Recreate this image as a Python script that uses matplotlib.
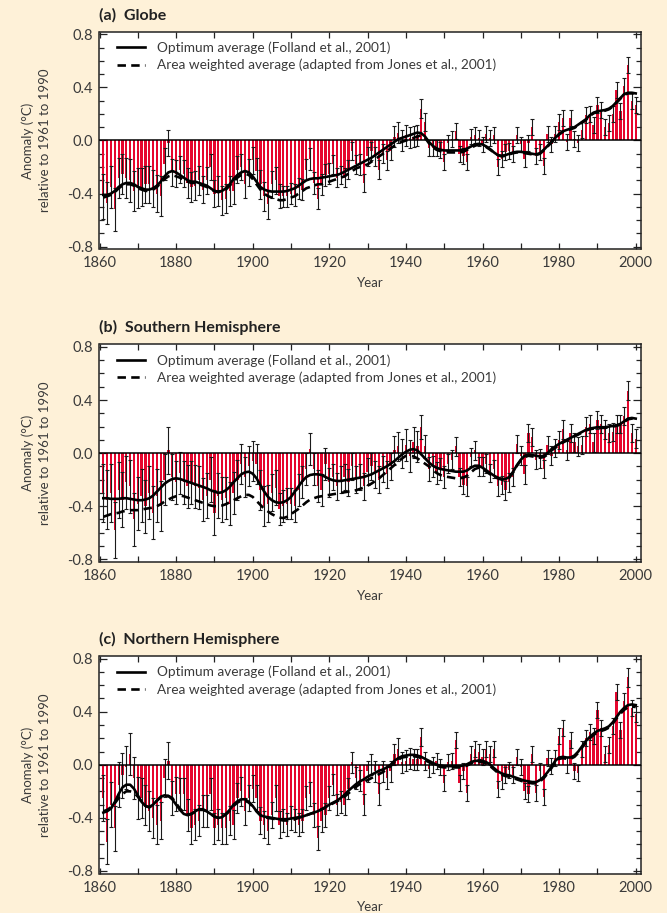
import numpy as np
import matplotlib.pyplot as plt
from matplotlib.ticker import MultipleLocator, FormatStrFormatter

plt.rcParams['font.family'] = ['Lato', 'DejaVu Sans']
plt.rcParams['axes.unicode_minus'] = False

years = np.arange(1861, 2001)

# (a) Globe
globe_bars = [
    -0.42, -0.47, -0.35, -0.52, -0.28, -0.25, -0.28, -0.30, -0.38, -0.36,
    -0.35, -0.33, -0.33, -0.36, -0.40, -0.42, -0.18, -0.02, -0.24, -0.25,
    -0.22, -0.25, -0.32, -0.35, -0.34, -0.30, -0.37, -0.30, -0.20, -0.40,
    -0.38, -0.45, -0.44, -0.38, -0.38, -0.22, -0.20, -0.33, -0.24, -0.15,
    -0.23, -0.33, -0.42, -0.48, -0.33, -0.30, -0.42, -0.42, -0.42, -0.40,
    -0.41, -0.36, -0.37, -0.22, -0.14, -0.32, -0.44, -0.33, -0.26, -0.25,
    -0.18, -0.28, -0.26, -0.28, -0.22, -0.08, -0.18, -0.18, -0.32, -0.12,
    -0.08, -0.12, -0.22, -0.10, -0.15, -0.08, 0.03, 0.06, 0.00, 0.04,
    0.02, 0.03, 0.04, 0.24, 0.14, -0.06, -0.06, -0.06, -0.07, -0.16,
    -0.02, 0.01, 0.07, -0.10, -0.12, -0.16, 0.03, 0.04, 0.02, -0.03,
    0.05, 0.02, 0.04, -0.20, -0.14, -0.09, -0.08, -0.10, 0.04, -0.03,
    -0.14, -0.02, 0.10, -0.12, -0.09, -0.19, 0.05, -0.03, 0.05, 0.14,
    0.17, -0.01, 0.17, 0.01, -0.02, 0.08, 0.19, 0.20, 0.12, 0.27,
    0.23, 0.10, 0.13, 0.20, 0.38, 0.22, 0.41, 0.57, 0.30, 0.27,
]
globe_err = [
    0.17, 0.16, 0.16, 0.16, 0.15, 0.15, 0.15, 0.16, 0.15, 0.15,
    0.14, 0.14, 0.14, 0.14, 0.14, 0.15, 0.12, 0.10, 0.10, 0.10,
    0.10, 0.10, 0.11, 0.11, 0.11, 0.11, 0.10, 0.10, 0.10, 0.10,
    0.11, 0.11, 0.11, 0.11, 0.10, 0.10, 0.10, 0.10, 0.10, 0.10,
    0.10, 0.11, 0.11, 0.11, 0.10, 0.10, 0.09, 0.08, 0.08, 0.08,
    0.08, 0.08, 0.08, 0.08, 0.08, 0.08, 0.08, 0.08, 0.08, 0.08,
    0.07, 0.07, 0.07, 0.07, 0.07, 0.07, 0.07, 0.08, 0.07, 0.07,
    0.07, 0.07, 0.07, 0.07, 0.07, 0.07, 0.08, 0.08, 0.08, 0.08,
    0.08, 0.08, 0.08, 0.07, 0.07, 0.06, 0.06, 0.06, 0.06, 0.06,
    0.06, 0.06, 0.06, 0.06, 0.06, 0.06, 0.06, 0.06, 0.06, 0.06,
    0.06, 0.06, 0.06, 0.06, 0.06, 0.06, 0.06, 0.06, 0.06, 0.06,
    0.06, 0.06, 0.06, 0.06, 0.06, 0.06, 0.06, 0.06, 0.06, 0.06,
    0.06, 0.06, 0.06, 0.06, 0.06, 0.06, 0.06, 0.06, 0.06, 0.06,
    0.06, 0.06, 0.06, 0.06, 0.06, 0.06, 0.06, 0.06, 0.06, 0.06,
]
globe_opt = [
    -0.41, -0.41, -0.40, -0.38, -0.35, -0.33, -0.32, -0.32, -0.33, -0.35,
    -0.36, -0.37, -0.37, -0.36, -0.34, -0.31, -0.27, -0.24, -0.23, -0.24,
    -0.26, -0.28, -0.30, -0.31, -0.31, -0.32, -0.33, -0.34, -0.36, -0.38,
    -0.385, -0.38, -0.36, -0.33, -0.29, -0.26, -0.24, -0.23, -0.24, -0.27,
    -0.31, -0.35, -0.37, -0.38, -0.385, -0.385, -0.385, -0.385, -0.38, -0.37,
    -0.36, -0.34, -0.32, -0.30, -0.29, -0.285, -0.285, -0.28, -0.275, -0.27,
    -0.265, -0.26, -0.25, -0.235, -0.22, -0.205, -0.19, -0.175, -0.16, -0.145,
    -0.13, -0.11, -0.09, -0.07, -0.05, -0.03, -0.01, 0.01, 0.02, 0.03,
    0.04, 0.05, 0.06, 0.055, 0.03, -0.01, -0.04, -0.06, -0.07, -0.075,
    -0.075, -0.075, -0.075, -0.075, -0.07, -0.06, -0.045, -0.03, -0.025, -0.03,
    -0.045, -0.065, -0.09, -0.11, -0.115, -0.11, -0.10, -0.09, -0.085, -0.085,
    -0.09, -0.095, -0.10, -0.105, -0.095, -0.07, -0.04, -0.01, 0.02, 0.05,
    0.07, 0.08, 0.09, 0.10, 0.12, 0.14, 0.16, 0.19, 0.21, 0.22,
    0.225, 0.23, 0.24, 0.26, 0.29, 0.32, 0.35, 0.36, 0.36, 0.355,
]
globe_area = [
    -0.43, -0.42, -0.41, -0.39, -0.36, -0.34, -0.33, -0.33, -0.34, -0.36,
    -0.37, -0.38, -0.38, -0.37, -0.35, -0.32, -0.29, -0.27, -0.26, -0.27,
    -0.28, -0.30, -0.31, -0.32, -0.32, -0.33, -0.34, -0.35, -0.37, -0.38,
    -0.39, -0.38, -0.37, -0.34, -0.31, -0.28, -0.26, -0.25, -0.26, -0.29,
    -0.33, -0.37, -0.40, -0.42, -0.43, -0.44, -0.45, -0.45, -0.44, -0.43,
    -0.42, -0.40, -0.38, -0.36, -0.35, -0.34, -0.33, -0.33, -0.32, -0.31,
    -0.30, -0.29, -0.28, -0.27, -0.25, -0.23, -0.21, -0.20, -0.19, -0.18,
    -0.16, -0.14, -0.12, -0.10, -0.08, -0.06, -0.04, -0.02, -0.01, 0.00,
    0.01, 0.02, 0.03, 0.04, 0.02, -0.02, -0.05, -0.07, -0.08, -0.09,
    -0.09, -0.09, -0.09, -0.09, -0.085, -0.07, -0.055, -0.04, -0.03, -0.035,
    -0.05, -0.07, -0.09, -0.11, -0.12, -0.115, -0.105, -0.095, -0.09, -0.09,
    -0.095, -0.10, -0.105, -0.11, -0.10, -0.075, -0.045, -0.015, 0.015, 0.045,
    0.065, 0.075, 0.085, 0.095, 0.115, 0.135, 0.155, 0.185, 0.205, 0.215,
    0.22, 0.225, 0.235, 0.255, 0.285, 0.315, 0.345, 0.355, 0.355, 0.35,
]

# (b) Southern Hemisphere
south_bars = [
    -0.30, -0.35, -0.30, -0.58, -0.28, -0.35, -0.22, -0.25, -0.50, -0.38,
    -0.32, -0.40, -0.30, -0.45, -0.32, -0.40, -0.20, 0.02, -0.18, -0.22,
    -0.15, -0.22, -0.25, -0.22, -0.25, -0.26, -0.35, -0.32, -0.20, -0.45,
    -0.32, -0.35, -0.34, -0.38, -0.30, -0.20, -0.08, -0.18, -0.10, -0.06,
    -0.08, -0.28, -0.40, -0.38, -0.30, -0.26, -0.42, -0.40, -0.38, -0.38,
    -0.40, -0.28, -0.22, -0.12, 0.03, -0.12, -0.25, -0.28, -0.08, -0.22,
    -0.18, -0.25, -0.20, -0.18, -0.22, -0.10, -0.20, -0.18, -0.25, -0.14,
    -0.10, -0.16, -0.20, -0.12, -0.16, -0.10, 0.02, 0.05, 0.00, 0.06,
    -0.02, 0.08, 0.05, 0.20, 0.05, -0.12, -0.10, -0.15, -0.12, -0.18,
    -0.08, -0.05, 0.05, -0.18, -0.24, -0.25, -0.03, 0.02, -0.10, -0.10,
    -0.08, -0.15, -0.12, -0.25, -0.24, -0.28, -0.22, -0.18, 0.07, -0.02,
    -0.16, 0.15, 0.12, -0.05, -0.04, -0.12, 0.06, -0.02, 0.04, 0.10,
    0.18, 0.02, 0.15, 0.08, 0.05, 0.06, 0.20, 0.22, 0.08, 0.25,
    0.22, 0.18, 0.15, 0.16, 0.22, 0.22, 0.28, 0.47, 0.15, 0.11,
]
south_err = [
    0.22, 0.22, 0.22, 0.21, 0.21, 0.21, 0.20, 0.20, 0.20, 0.20,
    0.20, 0.20, 0.20, 0.20, 0.20, 0.19, 0.19, 0.18, 0.17, 0.16,
    0.16, 0.16, 0.16, 0.16, 0.16, 0.16, 0.16, 0.17, 0.17, 0.17,
    0.17, 0.17, 0.16, 0.16, 0.16, 0.15, 0.15, 0.15, 0.15, 0.15,
    0.15, 0.15, 0.15, 0.14, 0.14, 0.13, 0.12, 0.12, 0.12, 0.12,
    0.12, 0.12, 0.12, 0.12, 0.12, 0.12, 0.12, 0.12, 0.12, 0.11,
    0.10, 0.10, 0.10, 0.10, 0.10, 0.10, 0.10, 0.10, 0.10, 0.10,
    0.10, 0.10, 0.10, 0.10, 0.10, 0.10, 0.11, 0.11, 0.11, 0.12,
    0.12, 0.12, 0.12, 0.09, 0.09, 0.09, 0.08, 0.08, 0.08, 0.08,
    0.07, 0.07, 0.07, 0.07, 0.07, 0.07, 0.07, 0.07, 0.07, 0.07,
    0.07, 0.07, 0.07, 0.07, 0.07, 0.07, 0.07, 0.07, 0.07, 0.07,
    0.07, 0.07, 0.07, 0.07, 0.07, 0.07, 0.07, 0.07, 0.07, 0.07,
    0.07, 0.07, 0.07, 0.07, 0.07, 0.07, 0.07, 0.07, 0.07, 0.07,
    0.07, 0.07, 0.07, 0.07, 0.07, 0.07, 0.07, 0.07, 0.07, 0.07,
]
south_opt = [
    -0.34, -0.34, -0.345, -0.345, -0.345, -0.34, -0.34, -0.345, -0.35, -0.355,
    -0.355, -0.35, -0.34, -0.32, -0.29, -0.26, -0.23, -0.21, -0.195, -0.19,
    -0.195, -0.205, -0.215, -0.225, -0.235, -0.245, -0.255, -0.265, -0.28, -0.29,
    -0.30, -0.295, -0.28, -0.255, -0.22, -0.19, -0.16, -0.145, -0.14, -0.155,
    -0.19, -0.24, -0.29, -0.33, -0.355, -0.37, -0.375, -0.37, -0.355, -0.33,
    -0.29, -0.25, -0.21, -0.18, -0.165, -0.16, -0.16, -0.165, -0.18, -0.195,
    -0.205, -0.21, -0.21, -0.205, -0.20, -0.195, -0.19, -0.185, -0.18, -0.17,
    -0.16, -0.145, -0.13, -0.115, -0.10, -0.08, -0.06, -0.035, -0.01, 0.01,
    0.025, 0.03, 0.02, -0.01, -0.04, -0.07, -0.095, -0.11, -0.12, -0.125,
    -0.13, -0.135, -0.14, -0.14, -0.14, -0.13, -0.11, -0.095, -0.095, -0.11,
    -0.13, -0.15, -0.17, -0.185, -0.195, -0.195, -0.18, -0.14, -0.09, -0.05,
    -0.02, -0.01, -0.015, -0.02, -0.025, -0.02, 0.00, 0.03, 0.05, 0.07,
    0.085, 0.10, 0.115, 0.13, 0.145, 0.16, 0.175, 0.185, 0.19, 0.195,
    0.195, 0.195, 0.20, 0.205, 0.21, 0.22, 0.24, 0.26, 0.265, 0.26,
]
south_area = [
    -0.48, -0.47, -0.46, -0.455, -0.45, -0.44, -0.435, -0.43, -0.43, -0.43,
    -0.425, -0.42, -0.415, -0.41, -0.40, -0.385, -0.365, -0.35, -0.335, -0.325,
    -0.32, -0.325, -0.335, -0.345, -0.355, -0.365, -0.375, -0.385, -0.395, -0.40,
    -0.40, -0.395, -0.385, -0.37, -0.355, -0.34, -0.325, -0.315, -0.315, -0.33,
    -0.36, -0.39, -0.42, -0.44, -0.46, -0.475, -0.485, -0.49, -0.48, -0.46,
    -0.44, -0.42, -0.395, -0.37, -0.35, -0.34, -0.33, -0.325, -0.32, -0.315,
    -0.31, -0.305, -0.30, -0.295, -0.29, -0.285, -0.28, -0.27, -0.26, -0.245,
    -0.23, -0.21, -0.19, -0.165, -0.14, -0.115, -0.09, -0.065, -0.04, -0.02,
    -0.02, -0.025, -0.04, -0.06, -0.08, -0.10, -0.125, -0.15, -0.165, -0.175,
    -0.18, -0.185, -0.19, -0.19, -0.185, -0.17, -0.145, -0.12, -0.11, -0.12,
    -0.14, -0.16, -0.18, -0.19, -0.20, -0.20, -0.185, -0.145, -0.095, -0.055,
    -0.03, -0.02, -0.025, -0.03, -0.035, -0.03, -0.01, 0.02, 0.04, 0.06,
    0.08, 0.095, 0.11, 0.125, 0.14, 0.155, 0.17, 0.18, 0.185, 0.19,
    0.19, 0.19, 0.195, 0.20, 0.205, 0.215, 0.235, 0.255, 0.26, 0.255,
]

# (c) Northern Hemisphere
north_bars = [
    -0.25, -0.58, -0.30, -0.48, -0.15, -0.08, -0.02, 0.08, -0.10, -0.25,
    -0.25, -0.30, -0.35, -0.40, -0.45, -0.42, -0.10, 0.03, -0.25, -0.22,
    -0.22, -0.22, -0.38, -0.48, -0.45, -0.42, -0.35, -0.35, -0.22, -0.48,
    -0.45, -0.48, -0.48, -0.42, -0.45, -0.25, -0.20, -0.35, -0.25, -0.18,
    -0.25, -0.42, -0.45, -0.50, -0.38, -0.25, -0.45, -0.42, -0.45, -0.40,
    -0.42, -0.45, -0.42, -0.25, -0.22, -0.38, -0.55, -0.42, -0.38, -0.25,
    -0.15, -0.30, -0.28, -0.30, -0.18, 0.02, -0.10, -0.12, -0.30, -0.05,
    0.00, -0.05, -0.22, -0.05, -0.10, -0.05, 0.08, 0.12, 0.02, 0.03,
    0.05, 0.04, 0.04, 0.21, 0.03, -0.03, 0.00, 0.03, -0.02, -0.14,
    0.02, 0.03, 0.19, -0.14, -0.05, -0.21, 0.08, 0.12, 0.10, 0.06,
    0.12, 0.08, 0.12, -0.18, -0.12, -0.08, -0.04, -0.08, 0.06, -0.02,
    -0.20, -0.22, 0.08, -0.21, -0.05, -0.24, 0.05, -0.01, 0.05, 0.22,
    0.28, 0.00, 0.19, -0.05, -0.06, 0.12, 0.20, 0.25, 0.22, 0.41,
    0.28, 0.08, 0.15, 0.29, 0.55, 0.26, 0.48, 0.66, 0.43, 0.38,
]
north_err = [
    0.17, 0.17, 0.17, 0.17, 0.17, 0.17, 0.16, 0.16, 0.16, 0.16,
    0.15, 0.15, 0.15, 0.15, 0.15, 0.14, 0.14, 0.14, 0.13, 0.13,
    0.12, 0.12, 0.12, 0.12, 0.12, 0.12, 0.12, 0.12, 0.12, 0.12,
    0.12, 0.12, 0.12, 0.11, 0.11, 0.11, 0.11, 0.10, 0.10, 0.10,
    0.10, 0.10, 0.10, 0.10, 0.10, 0.10, 0.10, 0.09, 0.09, 0.09,
    0.09, 0.09, 0.09, 0.09, 0.09, 0.09, 0.09, 0.09, 0.09, 0.09,
    0.08, 0.08, 0.08, 0.08, 0.08, 0.08, 0.08, 0.08, 0.08, 0.08,
    0.08, 0.08, 0.08, 0.08, 0.08, 0.08, 0.08, 0.08, 0.08, 0.08,
    0.08, 0.08, 0.08, 0.07, 0.07, 0.06, 0.06, 0.06, 0.06, 0.06,
    0.06, 0.06, 0.06, 0.06, 0.06, 0.06, 0.06, 0.06, 0.06, 0.06,
    0.06, 0.06, 0.06, 0.06, 0.06, 0.06, 0.06, 0.06, 0.06, 0.06,
    0.06, 0.06, 0.06, 0.06, 0.06, 0.06, 0.06, 0.06, 0.06, 0.06,
    0.06, 0.06, 0.06, 0.06, 0.06, 0.06, 0.06, 0.06, 0.06, 0.06,
    0.06, 0.06, 0.06, 0.06, 0.06, 0.06, 0.06, 0.07, 0.06, 0.06,
]
north_opt = [
    -0.36, -0.35, -0.33, -0.28, -0.22, -0.17, -0.15, -0.15, -0.18, -0.23,
    -0.28, -0.31, -0.32, -0.30, -0.27, -0.24, -0.23, -0.235, -0.26, -0.30,
    -0.34, -0.37, -0.38, -0.37, -0.35, -0.335, -0.335, -0.35, -0.37, -0.39,
    -0.40, -0.395, -0.37, -0.34, -0.30, -0.275, -0.26, -0.26, -0.28, -0.31,
    -0.35, -0.38, -0.39, -0.395, -0.40, -0.405, -0.41, -0.41, -0.41, -0.405,
    -0.40, -0.395, -0.39, -0.38, -0.37, -0.36, -0.35, -0.335, -0.32, -0.30,
    -0.285, -0.27, -0.25, -0.225, -0.195, -0.17, -0.145, -0.125, -0.11, -0.09,
    -0.075, -0.06, -0.045, -0.035, -0.02, 0.00, 0.03, 0.05, 0.065, 0.07,
    0.075, 0.075, 0.07, 0.06, 0.045, 0.03, 0.015, 0.00, -0.005, -0.01,
    -0.01, -0.01, -0.01, -0.01, -0.005, 0.005, 0.02, 0.03, 0.03, 0.03,
    0.02, 0.00, -0.025, -0.05, -0.065, -0.075, -0.08, -0.09, -0.10, -0.11,
    -0.12, -0.125, -0.13, -0.13, -0.115, -0.09, -0.055, -0.015, 0.03, 0.055,
    0.06, 0.055, 0.055, 0.07, 0.10, 0.14, 0.18, 0.21, 0.235, 0.255,
    0.265, 0.275, 0.29, 0.32, 0.36, 0.40, 0.43, 0.45, 0.455, 0.45,
]
north_area = [
    -0.35, -0.34, -0.32, -0.29, -0.25, -0.22, -0.20, -0.20, -0.21, -0.24,
    -0.28, -0.31, -0.32, -0.30, -0.27, -0.245, -0.235, -0.235, -0.25, -0.29,
    -0.33, -0.36, -0.375, -0.37, -0.355, -0.34, -0.34, -0.35, -0.37, -0.39,
    -0.40, -0.395, -0.375, -0.345, -0.31, -0.285, -0.27, -0.27, -0.285, -0.315,
    -0.35, -0.38, -0.395, -0.40, -0.405, -0.41, -0.415, -0.42, -0.42, -0.415,
    -0.41, -0.40, -0.39, -0.38, -0.37, -0.36, -0.35, -0.335, -0.32, -0.305,
    -0.29, -0.275, -0.26, -0.24, -0.215, -0.19, -0.165, -0.145, -0.13, -0.115,
    -0.10, -0.085, -0.07, -0.055, -0.035, -0.01, 0.02, 0.04, 0.055, 0.06,
    0.065, 0.065, 0.06, 0.05, 0.035, 0.02, 0.005, -0.01, -0.015, -0.02,
    -0.02, -0.02, -0.02, -0.02, -0.015, -0.005, 0.01, 0.02, 0.02, 0.02,
    0.01, -0.01, -0.035, -0.06, -0.075, -0.085, -0.09, -0.10, -0.11, -0.12,
    -0.13, -0.135, -0.14, -0.14, -0.125, -0.10, -0.065, -0.025, 0.02, 0.045,
    0.05, 0.045, 0.045, 0.06, 0.09, 0.13, 0.17, 0.20, 0.225, 0.245,
    0.255, 0.265, 0.28, 0.31, 0.35, 0.385, 0.415, 0.435, 0.44, 0.435,
]

panels = [
    ("(a)  Globe", globe_bars, globe_err, globe_opt, globe_area),
    ("(b)  Southern Hemisphere", south_bars, south_err, south_opt, south_area),
    ("(c)  Northern Hemisphere", north_bars, north_err, north_opt, north_area),
]

bg = "#fef1d8"
red = "#e6062e"
txt = "#3a3a3a"

fig = plt.figure(figsize=(6.67, 9.13), dpi=100, facecolor=bg)
W, H = 667.0, 913.0
tops = [31.7, 344.3, 656.0]
ax_h = 217.6

for (title, bars, err, opt, area), top in zip(panels, tops):
    ax = fig.add_axes([99.5 / W, 1 - (top + ax_h) / H, 541.2 / W, ax_h / H])
    ax.set_facecolor("white")

    ax.bar(years, bars, width=0.6, color=red, linewidth=0, zorder=2)
    ax.errorbar(years, bars, yerr=err, fmt="none", ecolor="#1a1a1a",
                elinewidth=0.8, capsize=1.6, capthick=0.8, zorder=3)
    ax.axhline(0, color="black", lw=1.1, zorder=4)
    ax.plot(years, opt, color="black", lw=1.9, zorder=5,
            label="Optimum average (Folland et al., 2001)")
    ax.plot(years, area, color="black", lw=1.9, dashes=(3.2, 2.0), zorder=5,
            label="Area weighted average (adapted from Jones et al., 2001)")

    ax.set_xlim(1860, 2001.3)
    ax.set_ylim(-0.82, 0.82)
    ax.xaxis.set_major_locator(MultipleLocator(20))
    ax.xaxis.set_minor_locator(MultipleLocator(10))
    ax.yaxis.set_major_locator(MultipleLocator(0.4))
    ax.yaxis.set_minor_locator(MultipleLocator(0.1))
    ax.yaxis.set_major_formatter(FormatStrFormatter("%.1f"))
    ax.tick_params(which="both", direction="in", top=True, right=True,
                   colors="#222222", labelcolor=txt, labelsize=10.5, width=0.9)
    ax.tick_params(axis="y", which="major", length=6, pad=5)
    ax.tick_params(axis="y", which="minor", length=3.5)
    ax.tick_params(axis="x", which="both", length=4, pad=5)
    for s in ax.spines.values():
        s.set_color("#222222")
        s.set_linewidth(1.1)

    ax.set_xlabel("Year", fontsize=9.5, color=txt, labelpad=5)
    ax.set_ylabel("Anomaly (\u00b0C)\nrelative to 1961 to 1990", fontsize=9.5,
                  color=txt, linespacing=1.5)
    ax.yaxis.set_label_coords(-0.09, 0.5)

    ax.text(0.0, 1 + 16.5 / ax_h, title, transform=ax.transAxes,
            fontsize=11.5, fontweight="bold", color="#222222",
            ha="left", va="center")

    ax.legend(loc="upper left", bbox_to_anchor=(0.032, 0.955), frameon=False,
              fontsize=9.8, handlelength=2.1, handletextpad=0.85,
              labelspacing=0.35, borderpad=0, borderaxespad=0,
              labelcolor=txt)

fig.savefig("out.png", dpi=100, facecolor=bg)
